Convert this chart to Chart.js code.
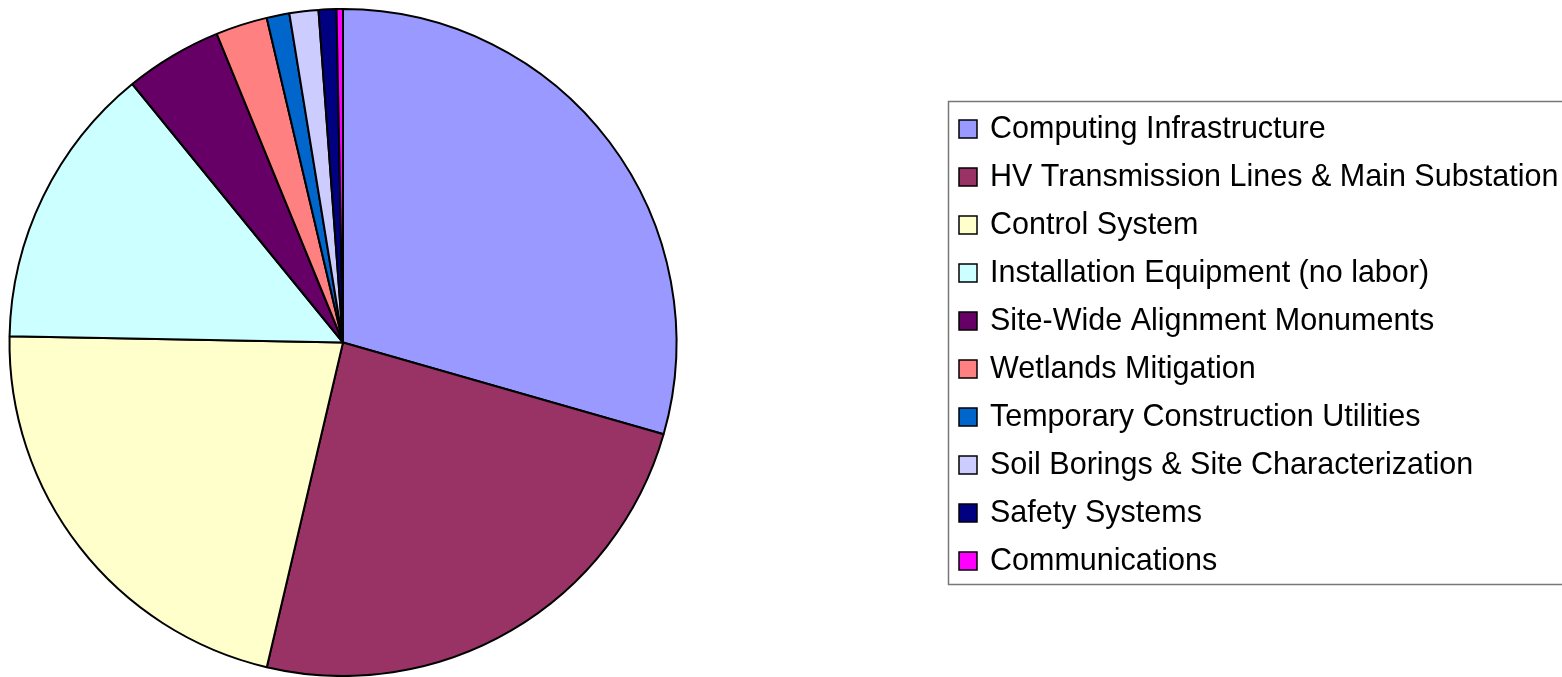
<!DOCTYPE html>
<html>
<head>
<meta charset="utf-8">
<script src="https://cdn.jsdelivr.net/npm/chart.js@4"></script>
<style>
  html, body { margin: 0; padding: 0; background: #fff; }
  #wrap { width: 1562px; height: 677px; position: relative; }
</style>
</head>
<body>
<div id="wrap"><canvas id="costChart"></canvas></div>
<script>
const labels = [
    "Computing Infrastructure",
    "HV Transmission Lines & Main Substation",
    "Control System",
    "Installation Equipment (no labor)",
    "Site-Wide Alignment Monuments",
    "Wetlands Mitigation",
    "Temporary Construction Utilities",
    "Soil Borings & Site Characterization",
    "Safety Systems",
    "Communications"
];
// share of total, percent
const shares = [29.4, 24.2, 21.6, 13.8, 4.7, 2.5, 1.1, 1.4, 0.86, 0.31];
const colors = ["#9999FF", "#993366", "#FFFFCC", "#CCFFFF", "#660066",
                "#FF8080", "#0066CC", "#CCCCFF", "#000080", "#FF00FF"];

// legend in a bordered box on the right, drawn like the old office chart
const boxLegend = {
    id: "boxLegend",
    afterDraw(chart) {
        const c = chart.ctx;
        c.save();
        c.strokeStyle = "#777";
        c.lineWidth = 1.5;
        c.strokeRect(948.5, 101.5, 700, 483);
        c.font = "30.5px 'Liberation Sans', Arial, sans-serif";
        c.textBaseline = "middle";
        labels.forEach((lab, i) => {
            const y = 129 + i * 48;
            c.fillStyle = colors[i];
            c.fillRect(959, y - 9, 18, 18);
            c.strokeStyle = "#000";
            c.lineWidth = 1.5;
            c.strokeRect(959, y - 9, 18, 18);
            c.fillStyle = "#000";
            c.fillText(lab, 990, y + 1);
        });
        c.restore();
    }
};

const ctx = document.getElementById("costChart").getContext("2d");
const chart = new Chart(ctx, {
    type: "pie",
    data: {
        labels: labels,
        datasets: [
            {
                data: shares,
                backgroundColor: colors,
                borderColor: "#000",
                borderWidth: 2
            }
        ]
    },
    options: {
        responsive: true,
        maintainAspectRatio: false,
        animation: false,
        layout: { padding: { left: 8, top: 8, right: 884, bottom: -1 } },
        plugins: {
            legend: { display: false },
            tooltip: { enabled: false }
        }
    },
    plugins: [boxLegend]
});
</script>
</body>
</html>
